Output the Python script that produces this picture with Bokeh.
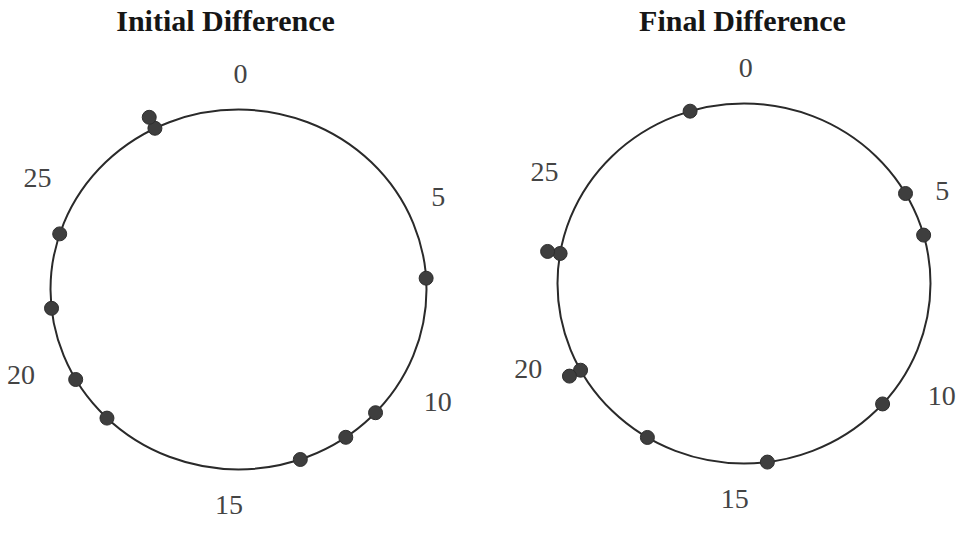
import numpy as np
from bokeh.plotting import figure
from bokeh.layouts import row
from bokeh.models import Range1d
from bokeh.core.properties import value
from bokeh.embed import file_html
from bokeh.resources import INLINE

# Circular scale: one full turn = 30 units, 0 at the top, clockwise
PERIOD = 30
tick_values = [0, 5, 10, 15, 20, 25]
tick_labels = ["0", "5", "10", "15", "20", "25"]

initial_title = "Initial Difference"
initial_values = [7.2, 11.1, 12.1, 13.4, 18.7, 20.0, 22.0, 24.0, 27.8, 27.8]

final_title = "Final Difference"
final_values = [5.0, 6.2, 11.0, 14.4, 17.6, 20.1, 20.1, 23.3, 23.3, 28.6]

# styling
SERIF = "Liberation Serif"
STACK_STEP = 0.068      # radial step for tied observations
# tick label placement: radius and small angular nudge (in scale units)
LABEL_R = [1.2, 1.18, 1.23, 1.2, 1.25, 1.235]
LABEL_NUDGE = [0.04, 0.35, 0.04, 0.2, 0.64, 0.0]
PANEL_W, PANEL_H = 482, 540


def to_xy(v, r):
    a = 2 * np.pi * np.asarray(v, dtype=float) / PERIOD
    return np.asarray(r) * np.sin(a), np.asarray(r) * np.cos(a)


def panel(title, values, cx, cy, rx, ry, title_x, title_y):
    """Circular dot plot; (cx, cy) is the circle centre in panel pixels,
    rx / ry the pixel length of one radius along x / y."""
    p = figure(width=PANEL_W, height=PANEL_H, output_backend="svg",
               toolbar_location=None, tools="",
               x_axis_location=None, y_axis_location=None,
               x_range=Range1d(-cx / rx, (PANEL_W - cx) / rx),
               y_range=Range1d(-(PANEL_H - cy) / ry, cy / ry),
               min_border=0, outline_line_color=None,
               background_fill_color="white", border_fill_color="white")
    p.grid.visible = False

    # unit circle
    p.ellipse(x=0, y=0, width=2, height=2, fill_color=None,
              line_color="#2a2a2a", line_width=2)

    # observations, ties stacked outward
    seen = {}
    xs, ys = [], []
    for v in values:
        k = seen.get(v, 0)
        seen[v] = k + 1
        x, y = to_xy(v, 1 + STACK_STEP * k)
        xs.append(float(x))
        ys.append(float(y))
    p.scatter(xs, ys, size=14, fill_color="#3e3e3e", line_color="#2e2e2e",
              line_width=1)

    # tick labels around the circle
    pos = np.asarray(tick_values, dtype=float) + np.asarray(LABEL_NUDGE)
    lx, ly = to_xy(pos, LABEL_R)
    p.text(x=list(lx), y=list(ly), text=tick_labels, text_align="center",
           text_baseline="middle", text_font=value(SERIF),
           text_font_size="28px", text_color="#444444")

    # panel heading
    p.text(x=[(title_x - cx) / rx], y=[(cy - title_y) / ry], text=[title],
           text_align="center", text_baseline="middle",
           text_font=value(SERIF), text_font_size="30px",
           text_font_style="bold", text_color="#161616")
    return p


left = panel(initial_title, initial_values, 238, 289, 188, 180, 225, 20)
right = panel(final_title, final_values, 261.5, 283, 186.5, 180, 260, 20)

layout = row(left, right, spacing=0)
open("out.html", "w").write(file_html(layout, INLINE))
